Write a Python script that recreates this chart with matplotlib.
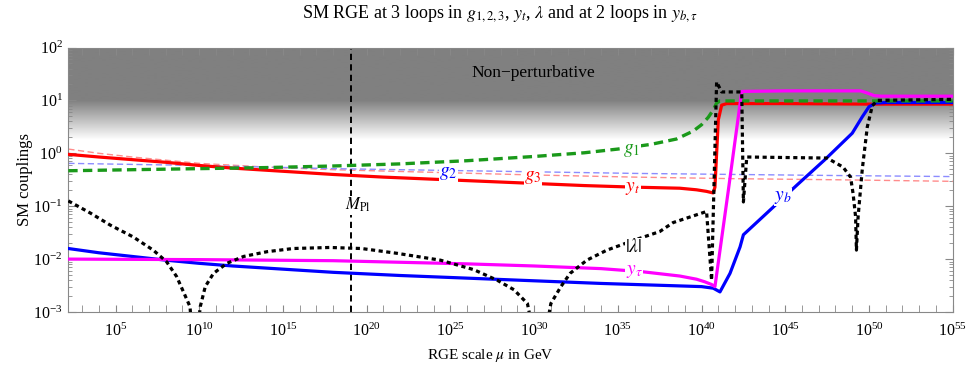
import numpy as np
import matplotlib
matplotlib.use("Agg")
import matplotlib.pyplot as plt
from matplotlib.ticker import LogLocator, LogFormatterMathtext, NullFormatter, FixedLocator

plt.rcParams['font.family'] = ['Liberation Serif', 'DejaVu Serif']
plt.rcParams['mathtext.fontset'] = 'stix'

# ---------------- data (log10 of mu in GeV, log10 of coupling) ----------------
t_yt = [2.18, 4, 6, 8, 10, 12, 14, 16, 18, 21, 24, 27, 30, 33, 36, 38.7, 39.7, 40.3, 40.7, 40.8, 41.0, 41.2, 41.5, 45, 50, 55]
L_yt = [-0.02, -0.07, -0.12, -0.17, -0.23, -0.28, -0.32, -0.36, -0.40, -0.45, -0.49, -0.53, -0.57, -0.61, -0.64, -0.66, -0.69, -0.72, -0.75, -0.64, 0.63, 0.91, 0.94, 0.94, 0.93, 0.93]

t_g1 = [2.18, 6, 10, 14, 18, 22, 26, 30, 33, 35, 37, 38.5, 39.5, 40.0, 40.4, 40.7, 40.9, 41.1, 45, 50, 55]
L_g1 = [-0.33, -0.31, -0.29, -0.27, -0.24, -0.20, -0.14, -0.06, 0.01, 0.08, 0.17, 0.27, 0.42, 0.54, 0.68, 0.82, 0.95, 0.99, 0.99, 0.99, 0.99]

t_g2 = [2.18, 6, 10, 14, 18, 24, 30, 36, 42, 48, 55]
L_g2 = [-0.19, -0.21, -0.23, -0.26, -0.29, -0.32, -0.35, -0.38, -0.40, -0.42, -0.44]

t_g3 = [2.18, 4, 6, 8, 10, 14, 18, 24, 30, 36, 42, 48, 55]
L_g3 = [0.08, 0.0, -0.07, -0.13, -0.19, -0.26, -0.31, -0.36, -0.41, -0.45, -0.48, -0.50, -0.53]

t_yb = [2.18, 4, 6, 8, 10, 12, 14, 18, 22, 26, 30, 34, 38, 40, 40.7, 41.1, 41.7, 42.3, 42.5, 44.0, 45.7, 47.4, 49.0, 49.6, 50.0, 50.4, 51, 55]
L_yb = [-1.80, -1.88, -1.95, -2.02, -2.08, -2.13, -2.17, -2.25, -2.31, -2.36, -2.41, -2.46, -2.50, -2.52, -2.55, -2.62, -2.27, -1.77, -1.54, -1.10, -0.60, -0.11, 0.38, 0.69, 0.88, 0.95, 0.96, 0.96]

t_ytau = [2.18, 10, 18, 22, 26, 30, 34, 36.5, 38.7, 39.7, 40.2, 40.6, 40.8, 41.6, 42.4, 45, 49.5, 49.9, 50.3, 50.7, 55]
L_ytau = [-2.00, -2.01, -2.03, -2.06, -2.09, -2.13, -2.18, -2.24, -2.32, -2.38, -2.43, -2.48, -2.52, -0.70, 1.17, 1.18, 1.18, 1.14, 1.09, 1.08, 1.08]

t_lam = [2.18, 3.5, 4.7, 6.05, 7.25, 8.05, 8.65, 9.1, 9.45, 9.7, 10.06, 10.36, 10.85, 11.65, 12.65, 14.05, 15.6, 17.8,
         19.7, 21.8, 24.4, 26.4, 27.8, 28.8, 29.6, 30.35, 31.0, 31.6, 32.15, 33.15, 34.35, 36.0, 37.5, 38.3, 40.3, 40.6,
         40.9, 41.2, 42.4, 42.5, 42.7, 47.5, 48.45, 48.9, 49.05, 49.2, 49.25, 49.35, 49.6, 49.9, 50.2, 50.5, 55]
L_lam = [-0.90, -1.13, -1.36, -1.58, -1.83, -2.05, -2.33, -2.65, -2.90, -4.0, -2.90, -2.52, -2.27, -2.08, -1.95, -1.86, -1.80, -1.78,
         -1.80, -1.89, -2.02, -2.20, -2.40, -2.58, -2.84, -4.0, -2.84, -2.52, -2.27, -2.02, -1.83, -1.64, -1.48, -1.31, -1.10, -2.40,
         1.35, 1.16, 1.16, -0.92, -0.07, -0.09, -0.26, -0.45, -0.76, -1.20, -1.83, -1.20, -0.30, 0.50, 0.90, 1.00, 1.02]

M_PL = 1.22e19
X_MIN, X_MAX = 10**2.18, 1e55
Y_MIN, Y_MAX = 1e-3, 1e2
NONPERT_FULL, NONPERT_ZERO = 10.0, 10**0.25   # shading: full gray above, white below

# ---------------- figure ----------------
fig = plt.figure(figsize=(9.69, 3.70), dpi=100)
ax = fig.add_axes([68.3/969, 1-312/370, (952.7-68.3)/969, (312-47.5)/370])
ax.set_xscale('log')
ax.set_yscale('log')
ax.set_xlim(X_MIN, X_MAX)
ax.set_ylim(Y_MIN, Y_MAX)

# background gradient
frac = np.linspace(0, 1, 600)
logv = np.log10(Y_MIN) + frac*(np.log10(Y_MAX)-np.log10(Y_MIN))
g = np.clip((logv - np.log10(NONPERT_ZERO))/(np.log10(NONPERT_FULL)-np.log10(NONPERT_ZERO)), 0, 1)
shade = 1 - 0.5*g
ax.imshow(shade[:, None], extent=(0, 1, 0, 1), transform=ax.transAxes, origin='lower',
          aspect='auto', cmap='gray', vmin=0, vmax=1, zorder=0, interpolation='bilinear')

def P(t, L):
    return 10**np.array(t, float), 10**np.array(L, float)

ax.plot(*P(t_g3, L_g3), color=(1, 0.55, 0.55), lw=1.0, dashes=(4.5, 2.5), zorder=2)
ax.plot(*P(t_g2, L_g2), color=(0.55, 0.55, 1), lw=1.0, dashes=(4.5, 2.5), zorder=2)
ax.axvline(M_PL, color='black', lw=1.4, dashes=(3.2, 2.2), zorder=2)
ax.plot(*P(t_yt, L_yt), color='red', lw=2.3, zorder=3)
ax.plot(*P(t_yb, L_yb), color='blue', lw=2.3, zorder=3)
ax.plot(*P(t_g1, L_g1), color=(0.1, 0.6, 0.1), lw=2.4, dashes=(2.8, 1.6), zorder=4)
ax.plot(*P(t_ytau, L_ytau), color=(1, 0, 1), lw=2.3, zorder=4)
ax.plot(*P(t_lam, L_lam), color='black', lw=2.3, dashes=(1.3, 1.1), zorder=5, solid_capstyle='butt')

# labels
bb = dict(facecolor='white', edgecolor='none', pad=0.3)
def lab(t, L, s, c, fs=14, box=True):
    ax.text(10**t, 10**L, s, color=c, fontsize=fs, ha='center', va='center', zorder=6,
            bbox=bb if box else None)

lab(35.85, 0.06, r'$g_1$', (0.1, 0.6, 0.1))
lab(24.87, -0.39, r'$g_2$', 'blue')
lab(29.94, -0.45, r'$g_3$', 'red')
lab(35.91, -0.67, r'$y_t$', 'red')
lab(35.97, -1.77, r'$|\lambda|$', 'black')
lab(35.97, -2.24, r'$y_\tau$', (1, 0, 1))
lab(44.87, -0.83, r'$y_b$', 'blue')
lab(19.45, -0.98, r'$M_{\rm Pl}$', 'black', fs=12)
lab(29.94, 1.52, 'Non\u2212perturbative', 'black', fs=12.5, box=False)

# ticks
ax.xaxis.set_major_locator(FixedLocator([10.0**k for k in range(5, 56, 5)]))
ax.xaxis.set_major_formatter(LogFormatterMathtext())
ax.xaxis.set_minor_locator(FixedLocator([10.0**k for k in range(3, 55) if k % 5]))
ax.xaxis.set_minor_formatter(NullFormatter())
ax.yaxis.set_major_locator(LogLocator(base=10, numticks=10))
ax.yaxis.set_minor_locator(LogLocator(base=10, subs=np.arange(2, 10), numticks=10))
ax.yaxis.set_minor_formatter(NullFormatter())
ax.tick_params(which='both', direction='in', top=True, right=True, color='#888888', labelsize=11.5)
ax.tick_params(axis='x', which='both', length=5, pad=8)
ax.tick_params(axis='y', which='major', length=6, pad=4)
ax.tick_params(axis='y', which='minor', length=3)
for s in ax.spines.values():
    s.set_color('#888888')

fig.text(25/969, 1-180/370, 'SM couplings', rotation=90, ha='center', va='center', fontsize=12)
fig.text(490/969, 1-356/370, r'RGE scale $\mu$ in GeV', ha='center', va='center', fontsize=11)
fig.text(500/969, 1-14/370, r'SM RGE at 3 loops in $g_{1,2,3}$, $y_t$, $\lambda$ and at 2 loops in $y_{b,\tau}$',
         ha='center', va='center', fontsize=13)

fig.savefig('out.png', dpi=100)
